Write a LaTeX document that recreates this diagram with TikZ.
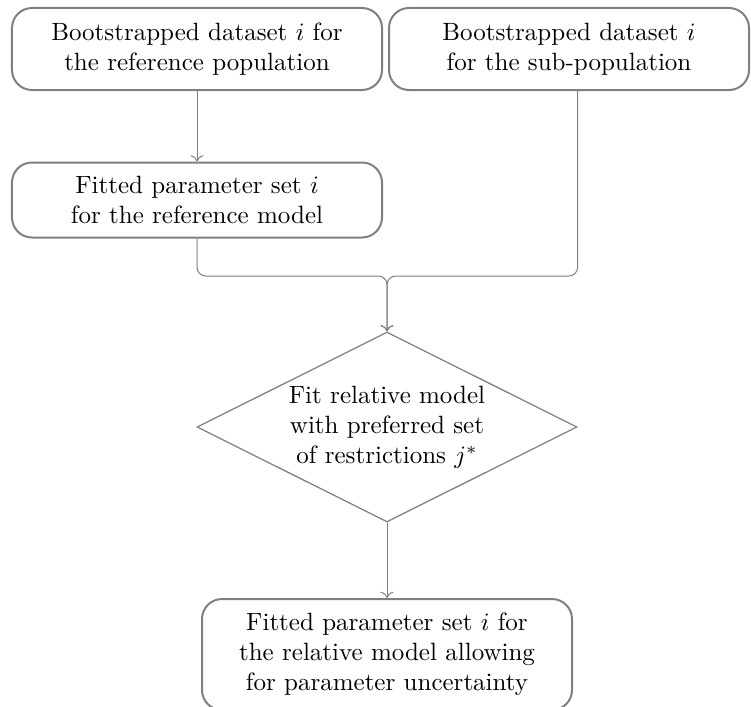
\documentclass[tikz,border=0pt]{standalone}
\usetikzlibrary{shapes.geometric}
\usetikzlibrary{arrows.meta}

\begin{document}
\begin{tikzpicture}[x=0.4pt,y=-0.4pt]
				\tikzstyle{block}=[draw=gray,line width=0.8pt,rounded corners=8pt,align=center,minimum width=148pt,minimum height=32.8pt]
				\tikzstyle{decision}=[diamond,draw=gray,line width=0.5pt,aspect=2,inner sep=0pt,align=center,minimum width=152pt,minimum height=76pt]
				\tikzstyle{link}=[draw=gray,line width=0.4pt,-{To},rounded corners=3.5pt]

				\useasboundingbox (0,0) rectangle (751,706);

				\node [block] (bootref) at (197,49) {Bootstrapped dataset $i$ for\\the reference population};
				\node [block, minimum width=144pt] (bootsub) at (569,49) {Bootstrapped dataset $i$\\for the sub-population};
				\node [block, minimum height=30pt] (fitref) at (197,200) {Fitted parameter set $i$\\for the reference model};
				\node [decision] (dia) at (387,427) {Fit relative model\\with preferred set\\of restrictions $j^*$};
				\node [block, minimum height=44.4pt] (fitrel) at (387,654.5) {Fitted parameter set $i$ for\\the relative model allowing\\for parameter uncertainty};
				\coordinate (merge) at (387,276);

				\draw[link] (bootref) -- (fitref);
				\draw[link] (fitref.south) |- (merge) -- (dia.north);
				\draw[link] (bootsub.south -| dia.east) |- (merge) -- (dia.north);
				\draw[link] (dia) -- (fitrel);
			\end{tikzpicture}
\end{document}
